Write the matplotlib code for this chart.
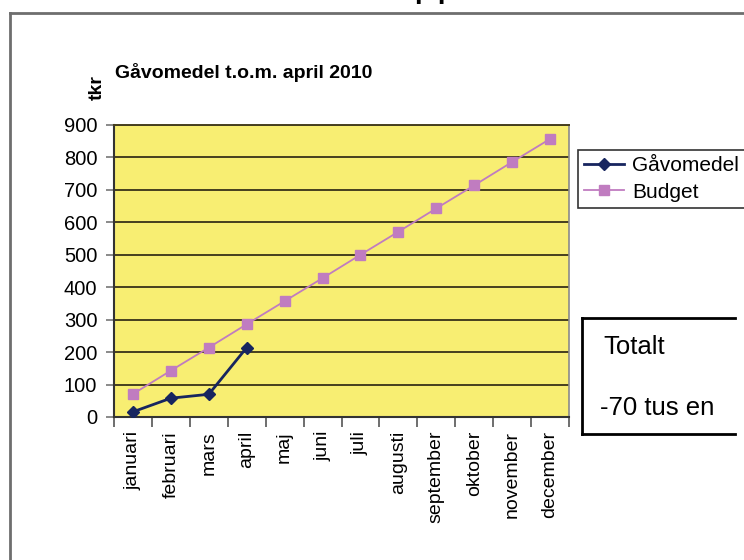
import matplotlib
matplotlib.use("Agg")
import numpy as np
import matplotlib.pyplot as plt
from matplotlib.lines import Line2D

plt.rcParams["font.family"] = ["Liberation Sans", "DejaVu Sans"]

# ---------- data (tkr) ----------
MONTHS = ["januari", "februari", "mars", "april", "maj", "juni", "juli",
          "augusti", "september", "oktober", "november", "december"]
GAVOMEDEL = [16, 58, 70, 214]
BUDGET = [71, 143, 214, 286, 357, 428, 500, 571, 643, 714, 786, 857]
YTICKS = [0, 100, 200, 300, 400, 500, 600, 700, 800, 900]
TITLE = "Gåvomedel t.o.m. april 2010"
BOX_LINES = ["Totalt", "-70 tus en"]

W, H = 744, 560
YELLOW = "#F8EE72"
GRID = "#463f1e"
NAVY = "#17255F"
ORCHID = "#C07CC0"


def fx(px):
    return px / W


def fy(py):
    return 1 - py / H


fig = plt.figure(figsize=(W / 100, H / 100), dpi=100)
fig.patch.set_facecolor("white")

ax = fig.add_axes([fx(114), fy(417), fx(569) - fx(114), fy(125) - fy(417)])
ax.set_facecolor(YELLOW)

x = np.arange(len(MONTHS)) + 0.5
ax.plot(x, BUDGET, color=ORCHID, lw=1.3, marker="s", ms=6.5,
        mfc=ORCHID, mec=ORCHID, label="Budget", zorder=3)
ax.plot(x[:len(GAVOMEDEL)], GAVOMEDEL, color=NAVY, lw=2, marker="D", ms=6.5,
        mfc=NAVY, mec=NAVY, label="Gåvomedel", zorder=4)

ax.set_xlim(0, len(MONTHS))
ax.set_ylim(0, 900)
ax.set_yticks(YTICKS)
ax.yaxis.grid(True, color=GRID, lw=1.4)
ax.set_axisbelow(True)

ax.set_xticks(x)
ax.set_xticklabels(MONTHS, rotation=90, va="top", ha="center", fontsize=14)
ax.set_xticks(np.arange(len(MONTHS) + 1), minor=True)
ax.tick_params(axis="x", which="major", length=0, pad=10)
ax.tick_params(axis="x", which="minor", length=7, width=1.2, color="#555555",
               direction="out")
ax.tick_params(axis="y", length=6, width=1.2, color="#777777", pad=6,
               labelsize=14.5)

for side in ("left", "bottom"):
    ax.spines[side].set_color("#333333")
    ax.spines[side].set_linewidth(1.5)
ax.spines["top"].set_color(GRID)
ax.spines["top"].set_linewidth(1.4)
ax.spines["right"].set_color("#8a8a8a")
ax.spines["right"].set_linewidth(1.2)

fig.text(fx(244), fy(73), TITLE, ha="center", va="center", fontsize=14,
         fontweight="bold")
fig.text(fx(97), fy(88), "tkr", ha="center", va="center", rotation=90,
         fontsize=14, fontweight="bold")

# legend (order as in the reference)
handles, labels = ax.get_legend_handles_labels()
leg = fig.legend(handles[::-1], labels[::-1], loc="upper left",
                 bbox_to_anchor=(fx(578), fy(150)), borderaxespad=0,
                 fontsize=15, frameon=True, fancybox=False, borderpad=0.3,
                 labelspacing=0.35, handlelength=1.9, handletextpad=0.4)
leg.get_frame().set_edgecolor("black")
leg.get_frame().set_linewidth(1.2)

# "Totalt" box (open on the right, as in the scan)
bx0, bx1, by0, by1 = 582, 735, 318, 434
for xs, ys in [((bx0, bx1), (by0, by0)), ((bx0, bx0), (by0, by1)),
               ((bx0, bx1), (by1, by1))]:
    fig.add_artist(Line2D([fx(v) for v in xs], [fy(v) for v in ys],
                          color="black", lw=2))
fig.text(fx(603), fy(347), BOX_LINES[0], ha="left", va="center", fontsize=18.5)
fig.text(fx(600), fy(408), BOX_LINES[1], ha="left", va="center", fontsize=18.5)

# outer frame of the scanned page
fig.add_artist(Line2D([fx(10), fx(10)], [fy(13), fy(H + 5)], color="#6e6e6e", lw=2))
fig.add_artist(Line2D([fx(10), fx(W + 5)], [fy(13), fy(13)], color="#6e6e6e", lw=2))
# descenders of the cut-off heading above the frame
fig.text(fx(413), fy(-5), "pp", ha="left", va="baseline", fontsize=31)

fig.savefig("out.png", dpi=100)
